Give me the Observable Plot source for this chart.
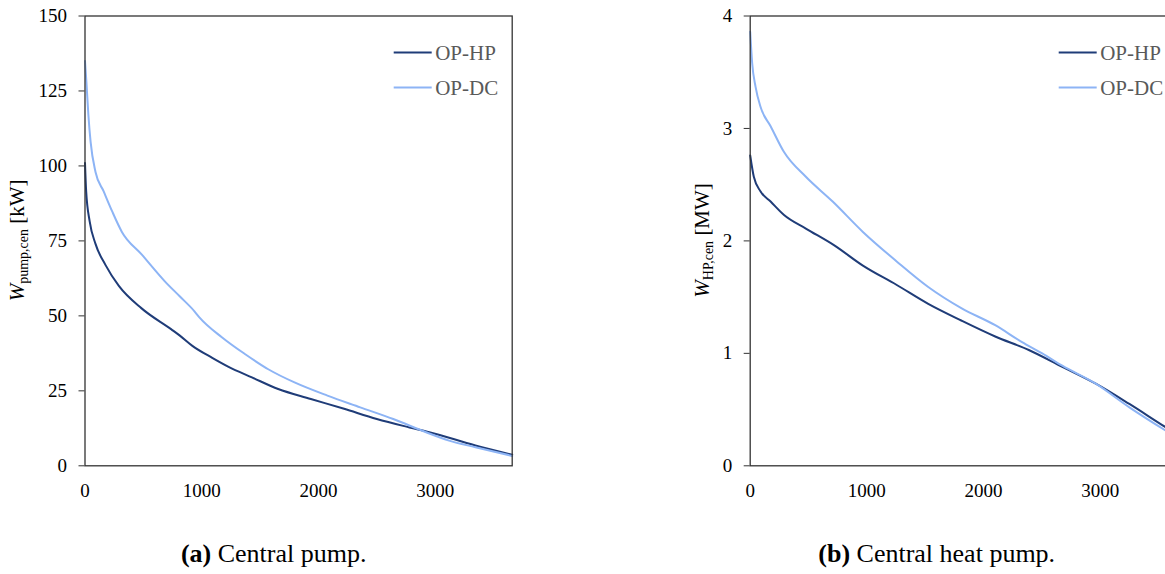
<!DOCTYPE html>
<html>
<head>
<meta charset="utf-8">
<script src="https://cdn.jsdelivr.net/npm/d3@7"></script>
<script src="https://cdn.jsdelivr.net/npm/@observablehq/plot@0.6"></script>
<style>
  html, body { margin: 0; padding: 0; background: #fff; }
  body { width: 1165px; height: 574px; overflow: hidden; position: relative; font-family: "Liberation Serif", "Times New Roman", serif; }
  .panel { position: absolute; top: 0; }
  .panel svg { max-width: none !important; display: block; }
  .caption { position: absolute; font-size: 26px; line-height: 26px; color: #000; text-align: center; white-space: nowrap; }
</style>
</head>
<body>
<div id="left" class="panel" style="left:0px; width:560px"></div>
<div id="right" class="panel" style="left:690px; width:500px"></div>
<div class="caption" style="left:123.7px; width:300px; top:541px"><b>(a)</b> Central pump.</div>
<div class="caption" style="left:786.7px; width:300px; top:541px"><b>(b)</b> Central heat pump.</div>
<script>
// ---- Data ----
const seriesNames = ["OP-HP", "OP-DC"];
const seriesColors = ["#1f3c78", "#8db4f5"];

// (a) Central pump, W_pump,cen [kW] vs. hours
const pumpHP_x = [0, 10, 40, 90, 175, 290, 485, 740, 810, 920, 1090, 1230, 1430, 1655, 1935, 2220, 2500, 2780, 2950, 3345, 3660];
const pumpHP_y = [101, 91.5, 81.5, 74, 67, 60, 52.5, 45.5, 43.5, 40, 36, 33, 29.5, 25.6, 22.3, 19, 15.6, 12.8, 11.2, 6.8, 3.7];
const pumpDC_x = [0, 12, 29, 48, 90, 160, 231, 316, 485, 682, 809, 936, 978, 1175, 1373, 1570, 1795, 2077, 2358, 2641, 2922, 3119, 3345, 3660];
const pumpDC_y = [135, 128, 117, 108, 98, 91.5, 85, 78, 70.5, 61.6, 56.6, 51.6, 49.6, 42.8, 37.2, 32.2, 27.8, 23.4, 19.5, 15.6, 11.2, 8.4, 6.2, 3.3];

// (b) Central heat pump, W_HP,cen [MW] vs. hours
const hpHP_x = [0, 31, 89, 175, 290, 477, 721, 966, 1253, 1526, 1813, 2100, 2388, 2675, 2962, 3250, 3566, 3660];
const hpHP_y = [2.76, 2.57, 2.44, 2.35, 2.23, 2.11, 1.96, 1.78, 1.61, 1.44, 1.29, 1.15, 1.03, 0.88, 0.73, 0.55, 0.34, 0.28];
const hpDC_x = [0, 17, 46, 89, 175, 290, 477, 707, 966, 1253, 1526, 1813, 2100, 2330, 2503, 2675, 2962, 3250, 3566, 3660];
const hpDC_y = [3.86, 3.58, 3.37, 3.19, 3.02, 2.79, 2.57, 2.35, 2.08, 1.82, 1.59, 1.40, 1.25, 1.10, 1.00, 0.89, 0.73, 0.52, 0.31, 0.25];

const xTicks = [0, 1000, 2000, 3000];
const pumpTicks = [0, 25, 50, 75, 100, 125, 150];
const hpTicks = [0, 1, 2, 3, 4];

function toRows(xs, ys, name) { return xs.map((x, i) => ({x, y: ys[i], series: name})); }

function makeChart({width, marginLeft, marginRight, yDomain, yTicks, rows, labelMain, labelSub, labelUnit, labelX}) {
  const height = 520, marginTop = 15.5, marginBottom = 54.7;
  const plot = Plot.plot({
    width, height, marginLeft, marginRight, marginTop, marginBottom,
    style: {fontFamily: "'Liberation Serif', 'Times New Roman', serif", fontSize: "19px", color: "#000", background: "transparent", overflow: "visible"},
    x: {domain: [0, 3660], label: null},
    y: {domain: yDomain, label: null},
    color: {domain: seriesNames, range: seriesColors},
    marks: [
      Plot.line(rows.filter(d => d.series === "OP-HP"), {x: "x", y: "y", stroke: "series", strokeWidth: 2, curve: "monotone-x"}),
      Plot.line(rows.filter(d => d.series === "OP-DC"), {x: "x", y: "y", stroke: "series", strokeWidth: 2, curve: "monotone-x"}),
      Plot.frame({stroke: "#333", strokeWidth: 1.3}),
      Plot.axisY({ticks: yTicks, tickSize: 6, tickPadding: 12, tickFormat: d => String(d), label: null, stroke: "#333"}),
      Plot.axisX({ticks: xTicks, tickSize: 0, tickPadding: 18, tickFormat: d => String(d), label: null})
    ]
  });
  const svg = d3.select(plot);
  svg.selectAll("text").attr("fill", "#000");
  // y-axis label with italic W and subscript
  const cy = (marginTop + (height - marginBottom)) / 2;
  const t = svg.append("text")
    .attr("transform", `translate(${labelX},${cy}) rotate(-90)`)
    .attr("text-anchor", "middle")
    .attr("font-size", 21)
    .attr("fill", "#000");
  t.append("tspan").attr("font-style", "italic").text(labelMain);
  t.append("tspan").attr("font-size", 14).attr("dy", 4).text(labelSub);
  t.append("tspan").attr("dy", -4).text("\u00a0" + labelUnit);
  // legend
  const plotRight = width - marginRight;
  const legendY = [52.5, 87.5];
  seriesNames.forEach((name, i) => {
    svg.append("line")
      .attr("x1", plotRight - 118).attr("x2", plotRight - 80)
      .attr("y1", legendY[i]).attr("y2", legendY[i])
      .attr("stroke", seriesColors[i]).attr("stroke-width", 2);
    svg.append("text")
      .attr("x", plotRight - 76.5).attr("y", legendY[i])
      .attr("dy", "0.35em")
      .attr("text-anchor", "start")
      .attr("font-size", 21).attr("fill", "#595959")
      .text(name);
  });
  return plot;
}

const pumpRows = toRows(pumpHP_x, pumpHP_y, "OP-HP").concat(toRows(pumpDC_x, pumpDC_y, "OP-DC"));
const hpRows = toRows(hpHP_x, hpHP_y, "OP-HP").concat(toRows(hpDC_x, hpDC_y, "OP-DC"));

document.getElementById("left").appendChild(makeChart({
  width: 560, marginLeft: 84.5, marginRight: 48.3, yDomain: [0, 150], yTicks: pumpTicks,
  rows: pumpRows, labelMain: "W", labelSub: "pump,cen", labelUnit: "[kW]", labelX: 24
}));
document.getElementById("right").appendChild(makeChart({
  width: 500, marginLeft: 59.7, marginRight: 13.3, yDomain: [0, 4], yTicks: hpTicks,
  rows: hpRows, labelMain: "W", labelSub: "HP,cen", labelUnit: "[MW]", labelX: 19
}));
</script>
</body>
</html>
